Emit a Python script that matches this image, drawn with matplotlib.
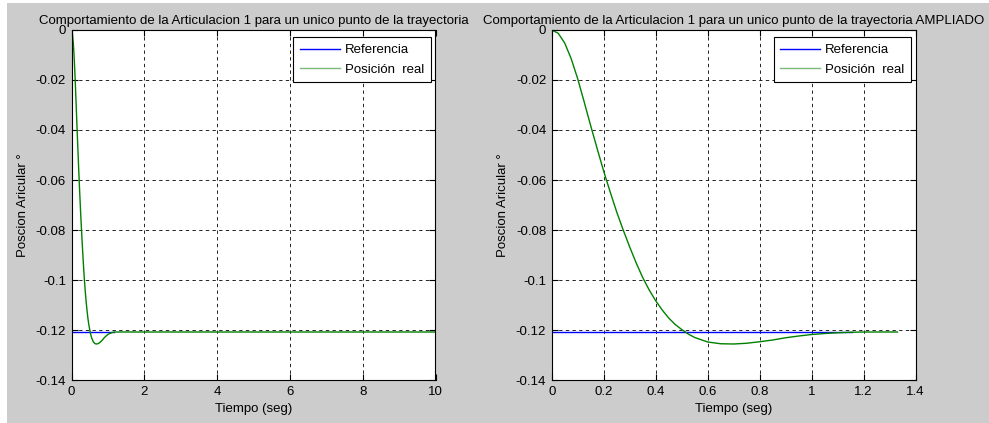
import matplotlib
matplotlib.use("Agg")
import matplotlib.pyplot as plt
from matplotlib.patches import Rectangle
from matplotlib.ticker import FormatStrFormatter

plt.rcParams['font.family'] = ['Liberation Sans', 'DejaVu Sans']

# Referencia (constant set point)
t_ref = [0.0, 1.154]
pos_ref = [-0.1209, -0.1209]

# Posicion real (transient)
t_real = [0.0, 0.025, 0.05, 0.075, 0.10, 0.125, 0.15, 0.175, 0.20, 0.225,
          0.25, 0.275, 0.30, 0.325, 0.35, 0.375, 0.40, 0.425, 0.45, 0.475,
          0.50, 0.525, 0.55, 0.60, 0.65, 0.70, 0.75, 0.80, 0.85, 0.90,
          0.95, 1.00, 1.05, 1.10, 1.15, 1.20, 1.25, 1.33]
pos_real = [0.0, -0.0013, -0.0052, -0.0115, -0.0195, -0.0288, -0.0383, -0.0475,
            -0.0565, -0.0648, -0.0728, -0.0800, -0.0868, -0.0932, -0.0990,
            -0.1040, -0.1083, -0.1120, -0.1152, -0.1178, -0.1198, -0.1216,
            -0.1230, -0.1248, -0.1255, -0.1256, -0.1253, -0.1247, -0.1240,
            -0.1231, -0.1224, -0.1218, -0.1214, -0.1211, -0.1209, -0.1208,
            -0.1208, -0.1208]

# the full run keeps the final value up to t = 10 s
t_end = 10.0

titles = ["Comportamiento de la Articulacion 1 para un unico punto de la trayectoria",
          "Comportamiento de la Articulacion 1 para un unico punto de la trayectoria AMPLIADO"]
xlims = [(0, 10), (0, 1.4)]
xticks = [[0, 2, 4, 6, 8, 10], [0, 0.2, 0.4, 0.6, 0.8, 1.0, 1.2, 1.4]]
yticks = [0, -0.02, -0.04, -0.06, -0.08, -0.1, -0.12, -0.14]

W, H = 989, 423
fig = plt.figure(figsize=(W / 100, H / 100), dpi=100, facecolor="white")
fig.patches.append(Rectangle((7 / W, 0), 1, 1 - 3 / H, transform=fig.transFigure,
                             facecolor="#cccccc", edgecolor="none", zorder=-10))

fs = 9.5
lefts = [71.5 / W, 551.7 / W]
for i in range(2):
    ax = fig.add_axes([lefts[i], 43 / H, 364 / W, 350 / H])
    ax.set_facecolor("white")

    if i == 0:
        tg = t_real + [t_end]
        yg = pos_real + [pos_real[-1]]
    else:
        tg, yg = t_real, pos_real
    ax.plot(t_ref, pos_ref, color="#0000ff", lw=1.0, label="Referencia")
    ax.plot(tg, yg, color="#008000", lw=1.0, label="Posición  real")

    ax.set_xlim(*xlims[i])
    ax.set_ylim(-0.14, 0)
    ax.set_xticks(xticks[i])
    ax.set_yticks(yticks)
    ax.xaxis.set_major_formatter(FormatStrFormatter('%g'))
    ax.yaxis.set_major_formatter(FormatStrFormatter('%g'))
    ax.tick_params(direction="in", top=True, right=True, length=4, width=0.8,
                   labelsize=fs, pad=4, colors="black")
    ax.grid(True, color="black", linestyle=(0, (4, 4)), lw=0.6)
    for s in ax.spines.values():
        s.set_linewidth(0.8)

    ax.set_title(titles[i], fontsize=fs, pad=4)
    ax.set_xlabel("Tiempo (seg)", fontsize=fs, labelpad=4)
    ax.set_ylabel("Poscion Aricular °", fontsize=fs, labelpad=5)

    leg = ax.legend(loc="upper right", bbox_to_anchor=(0.987, 0.979), fontsize=fs,
                    fancybox=False, framealpha=1, edgecolor="black", borderaxespad=0,
                    handlelength=3.0, handletextpad=0.4, labelspacing=0.55,
                    borderpad=0.5)
    leg.get_frame().set_linewidth(0.8)
    leg.get_lines()[1].set_color("#77bb77")

fig.savefig("out.png", dpi=100, facecolor=fig.get_facecolor())
